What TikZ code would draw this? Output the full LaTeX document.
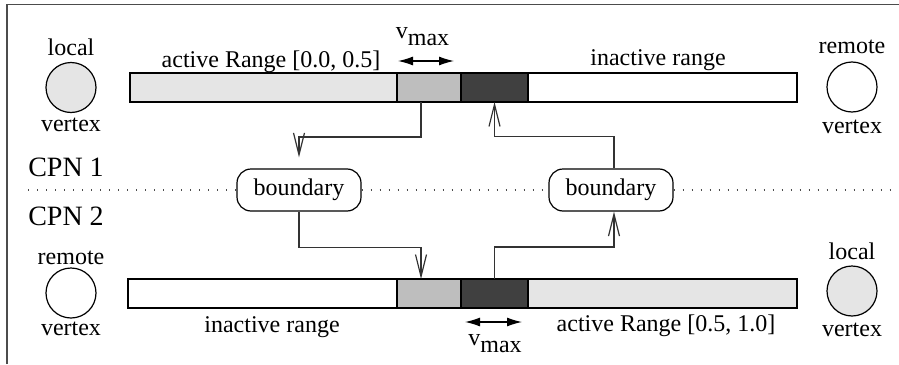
\documentclass[tikz,border=0pt]{standalone}
\usepackage{fontspec}
\setmainfont{Liberation Serif}
\usetikzlibrary{arrows.meta,calc}
\definecolor{lg}{HTML}{E5E5E5}
\definecolor{mg}{HTML}{BEBEBE}
\definecolor{dg}{HTML}{404040}
\begin{document}
\begin{tikzpicture}[x=0.5pt,y=-0.5pt,font=\fontsize{12}{14}\selectfont,
  seg/.style={draw=black,line width=0.6pt,inner sep=0,outer sep=0,minimum height=14.5pt,anchor=west},
  vert/.style={circle,draw=black,line width=0.6pt,minimum size=25pt,inner sep=0},
  bnd/.style={draw=black,line width=0.6pt,rounded corners=7pt,minimum width=62pt,minimum height=21pt,inner sep=0},
  lbl/.style={anchor=base,inner sep=0},
  conn/.style={draw=black!80,line width=0.6pt,-{Straight Barb[length=11pt,width=5.5pt]}},
  vm/.style={line width=0.6pt,{Latex[length=7.5pt,width=4.5pt]}-{Latex[length=7.5pt,width=4.5pt]}},
  sepline/.style={draw=black!70,line width=0.6pt,dash pattern=on 0.6pt off 3.9pt},
  frameline/.style={draw=black!70,line width=0.75pt}]
\useasboundingbox (0,0) rectangle (899,364);
% frame (cropped)
\coordinate (f1) at (7,364);
\coordinate (f2) at (7,4.5);
\coordinate (f3) at (899,4.5);
\draw[frameline] (f1) -- (f2) -- (f3);

% top bar
\node[seg,fill=lg,minimum width=133.5pt] (a1) at (130,87.5) {};
\node[seg,fill=mg,minimum width=32pt] (a2) at (a1.east) {};
\node[seg,fill=dg,minimum width=33.5pt] (a3) at (a2.east) {};
\node[seg,fill=white,minimum width=134.5pt] (a4) at (a3.east) {};
% bottom bar
\node[seg,fill=white,minimum width=134.5pt] (b1) at (128,293.5) {};
\node[seg,fill=mg,minimum width=32pt] (b2) at (b1.east) {};
\node[seg,fill=dg,minimum width=33.5pt] (b3) at (b2.east) {};
\node[seg,fill=lg,minimum width=134.5pt] (b4) at (b3.east) {};

% vertices
\node[vert,fill=lg] (lv1) at (71,87.5) {};
\node[vert,fill=white] (rv1) at (852,87) {};
\node[vert,fill=white] (rv2) at (71,293) {};
\node[vert,fill=lg] (lv2) at (852,291) {};
\node[lbl] (t1) at (71,55) {local};
\node[lbl] (t2) at (71,131) {vertex};
\node[lbl] (t3) at (852,53) {remote};
\node[lbl] (t4) at (852,133) {vertex};
\node[lbl] (t5) at (71,264) {remote};
\node[lbl] (t6) at (71,335) {vertex};
\node[lbl] (t7) at (852,259) {local};
\node[lbl] (t8) at (852,336) {vertex};

% range labels
\node[lbl] (r1) at (271,67) {active Range [0.0, 0.5]};
\node[lbl] (r2) at (658,65) {inactive range};
\node[lbl] (r3) at (272,332) {inactive range};
\node[lbl] (r4) at (666,331) {active Range [0.5, 1.0]};

% CPN labels
\node[lbl,font=\fontsize{14}{16}\selectfont] (c1) at (66,176) {CPN 1};
\node[lbl,font=\fontsize{14}{16}\selectfont] (c2) at (66,225) {CPN 2};

% boundaries
\node[bnd] (bL) at (299,190) {boundary};
\node[bnd] (bR) at (611,190) {boundary};

% dotted separator
\coordinate (s1) at (28,190);
\coordinate (s2) at (897,190);
\draw[sepline] (s1) -- (bL.west);
\draw[sepline] (bL.east) -- (bR.west);
\draw[sepline] (bR.east) -- (s2);

% connectors
\draw[conn] ([xshift=-4pt]a2.south) -- ++(0,35) -| ([yshift=5.5pt]bL.north);
\draw[conn] ([xshift=1.5pt]bR.north) -- ++(0,-32) -| (a3.south);
\draw[conn] (bL.south) -- ++(0,36) -| ([xshift=-4pt]b2.north);
\draw[conn] (b3.north) -- ++(0,-32) -| ([xshift=1.5pt]bR.south);

% vmax
\coordinate (v1l) at (398,61);
\coordinate (v1r) at (454,61);
\draw[vm] (v1l) -- (v1r);
\node[lbl] (vl1) at (422.5,38) {v\lower3.5pt\hbox{max}};
\coordinate (v2l) at (465,322);
\coordinate (v2r) at (522,322);
\draw[vm] (v2l) -- (v2r);
\node[lbl] (vl2) at (495,345) {v\lower3.5pt\hbox{max}};
\end{tikzpicture}
\end{document}
